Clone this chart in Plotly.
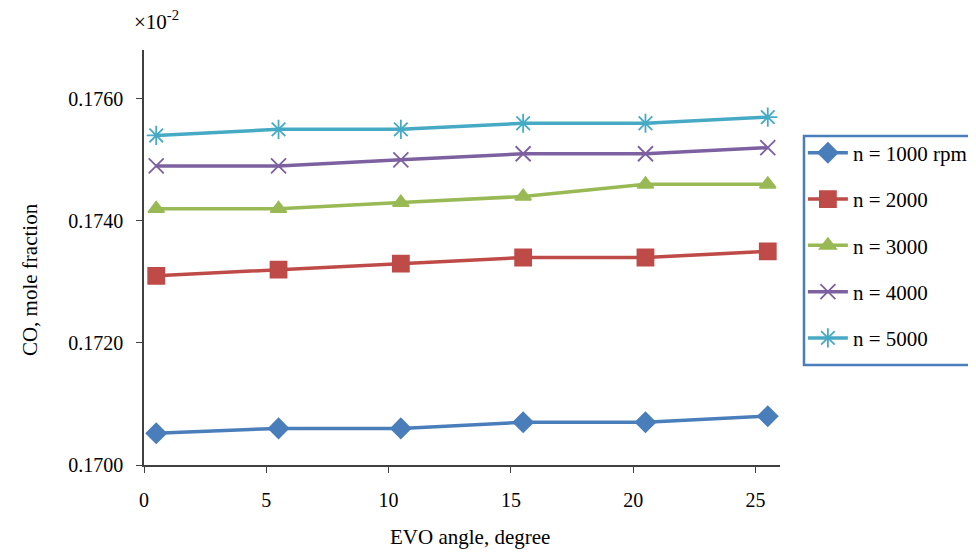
import plotly.graph_objects as go

evo_angle = [0.5, 5.5, 10.5, 15.5, 20.5, 25.5]
series_names = ["n = 1000 rpm", "n = 2000", "n = 3000", "n = 4000", "n = 5000"]
co_1000 = [0.17052, 0.1706, 0.1706, 0.1707, 0.1707, 0.1708]
co_2000 = [0.1731, 0.1732, 0.1733, 0.1734, 0.1734, 0.1735]
co_3000 = [0.1742, 0.1742, 0.1743, 0.1744, 0.1746, 0.1746]
co_4000 = [0.1749, 0.1749, 0.1750, 0.1751, 0.1751, 0.1752]
co_5000 = [0.1754, 0.1755, 0.1755, 0.1756, 0.1756, 0.1757]
y_ticks = [0.1700, 0.1720, 0.1740, 0.1760]
x_ticks = [0, 5, 10, 15, 20, 25]

colors = ["#4A7EBB", "#BE4B48", "#98B954", "#7D60A0", "#46AAC5"]
symbols = ["diamond", "square", "triangle-up", "x-thin-open", "asterisk-open"]
sizes = [15, 16, 14, 15, 16]
all_vals = [co_1000, co_2000, co_3000, co_4000, co_5000]

font = "Liberation Serif, Times New Roman, serif"
fig = go.Figure()
for i, (name, vals) in enumerate(zip(series_names, all_vals)):
    fig.add_trace(go.Scatter(
        x=evo_angle, y=vals, name=name, mode="lines+markers",
        legendgroup=str(i),
        line=dict(color=colors[i], width=3.5),
        marker=dict(symbol=symbols[i], size=sizes[i], color=colors[i],
                    line=dict(color=colors[i], width=1.8)),
    ))

fig.update_layout(
    width=976, height=553,
    paper_bgcolor="white", plot_bgcolor="white",
    margin=dict(l=136, r=204, t=42, b=96),
    font=dict(family=font, size=20, color="black"),
    xaxis=dict(range=[0, 26], tickvals=x_ticks, showgrid=False, zeroline=False,
               showline=True, linecolor="#404040", linewidth=1.5,
               ticks="outside", ticklen=6, tickcolor="#404040",
               ticklabelstandoff=10),
    yaxis=dict(range=[0.1700, 0.1768], tickvals=y_ticks, tickformat=".4f",
               showgrid=False, zeroline=False,
               showline=True, linecolor="#404040", linewidth=1.5,
               ticks="outside", ticklen=6, tickcolor="#404040",
               ticklabelstandoff=9),
    legend=dict(x=1.036, y=0.801, xanchor="left", yanchor="top",
                borderwidth=0, bgcolor="rgba(0,0,0,0)",
                font=dict(size=21), traceorder="grouped", tracegroupgap=16,
                itemwidth=40),
    shapes=[dict(type="rect", xref="paper", yref="paper",
                 x0=1.0377, x1=1.36, y0=0.241, y1=0.793,
                 line=dict(color="#4A7EBB", width=2.5), layer="below")],
    annotations=[
        dict(text="×10<sup>-2</sup>", x=0, y=1.0, xref="paper", yref="paper",
             xanchor="left", yanchor="bottom", xshift=-12, yshift=14,
             showarrow=False, font=dict(size=21)),
        dict(text="EVO angle, degree", x=0.5126, y=-0.1735, xref="paper", yref="paper",
             xanchor="center", yanchor="middle", showarrow=False, font=dict(size=21)),
        dict(text="CO, mole fraction", x=-0.179, y=0.446, xref="paper", yref="paper",
             xanchor="center", yanchor="middle", textangle=-90, showarrow=False,
             font=dict(size=21)),
    ],
)

fig.write_html("out.html")
